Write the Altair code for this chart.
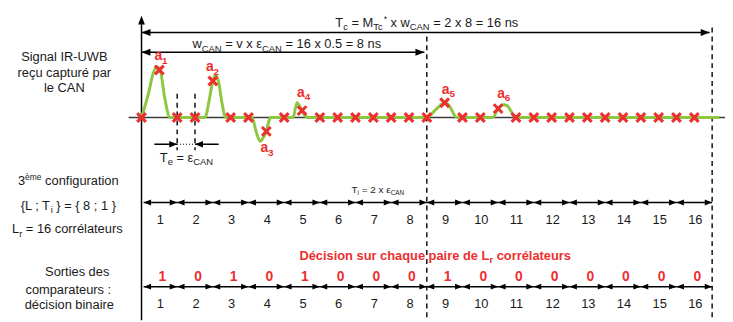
import altair as alt
import pandas as pd

# ---------------- values ----------------
EPS_CAN = 0.5            # ns, sampling period of the ADC
N_SAMPLES = 32           # samples in T_c
SAMPLE_AMP = [0, 48, 0, 0, 37, 0, 0, -14, 0, 7, 0, 0, 0, 0, 0, 0,
              0, 15, 0, 0, 9, 0, 0, 0, 0, 0, 0, 0, 0, 0, 0, 0]
SIGNAL_T = [0.0, 0.2, 0.33, 0.44, 0.53, 0.65, 0.8, 1.78, 1.9, 2.0, 2.08, 2.16, 2.26, 2.36,
            3.1, 3.22, 3.33, 3.42, 3.5, 3.56, 3.62, 4.25, 4.36, 4.5, 4.6, 4.7,
            8.0, 8.25, 8.5, 8.6, 8.85, 9.85, 10.0, 10.15, 10.25, 10.5, 16.2]
SIGNAL_A = [0, 25, 45, 51, 47, 20, 0, 0, 18, 37, 43, 36, 14, 0,
            0, -15, -24, -20, -14, -5, 0, 0, 15, 7, 1, 0,
            0, 8, 15, 13, 0, 0, 9, 13, 12, 0, 0]
PEAK_IDX = [1, 4, 7, 9, 17, 20]
PEAK_NAMES = ["1", "2", "3", "4", "5", "6"]
N_CORR = 16
T_I = 1.0
DECISIONS = [1, 0, 1, 0, 1, 0, 0, 0, 1, 0, 0, 0, 0, 0, 0, 0]
W_CAN = 8.0
T_C = 16.0

# ---------------- layout ----------------
W, H = 725, 314
PPN = 577 / 16.0                      # pixels per ns
X0 = -135 / PPN
X1 = X0 + W / PPN


def px(p):
    return (p - 143) / PPN            # image column -> ns


ROW_SIG = 117
ROW_A, ROW_B = 203, 288
RED = "#EC2F2F"
GREEN = "#8DC63F"
INK = "#1a1a1a"
FONT = "Liberation Sans"

xs = alt.Scale(domain=[X0, X1], nice=False, zero=False)
ys = alt.Scale(domain=[8, 322], reverse=True, nice=False, zero=False)


def X(f):
    return alt.X(f, type="quantitative", scale=xs, axis=None)


def Y(f):
    return alt.Y(f, type="quantitative", scale=ys, axis=None)


# ---------------- font metrics (Arial / Liberation Sans) ----------------
def _tab(s):
    d = {}
    for part in s.split():
        k, v = part.rsplit(":", 1)
        for ch in k:
            d[ch] = int(v)
    return d


AW = _tab("ABEKPSVXY:667 CDHNRUw:722 FTZ:611 GOQ:778 I:278 J:500 L:556 M:833 W:944 "
          "abdeghnopqu0123456789èé:556 cksvxyzç:500 fjt:278 il:222 m:833 r:333 "
          ".,;::278 =:584 {}:334 *:389 -:333 ε:446")
AW[" "] = 278
AWB = _tab("ABCDHKNRUw:722 EPSVXY:667 FTZ:611 GOQ:778 I:278 L:611 M:833 W:944 "
           "aeè0123456789é:556 bdghnopqu:611 cksvxyç:556 z:500 ilj:278 ft:333 m:889 r:389")
AWB[" "] = 278


def tw(s, size, bold=False):
    d = AWB if bold else AW
    return sum(d.get(c, 556) for c in s) * size / 1000.0


texts = {False: [], True: []}


def rich(segs, x, base, size=13, sub=9.5, color=INK, bold=False, anchor="center"):
    sizes = {"n": size, "s": sub, "p": sub * 0.9}
    dys = {"n": 0, "s": size * 0.26, "p": -size * 0.38}
    total = sum(tw(t, sizes[k], bold) for t, k in segs)
    cur = x - total / 2 if anchor == "center" else x
    for t, k in segs:
        lead = len(t) - len(t.lstrip(" "))
        s = t.strip(" ")
        if s:
            texts[bold].append(dict(x=px(cur + tw(" " * lead, sizes[k], bold)), y=base + dys[k],
                                    text=s, size=sizes[k], color=color))
        cur += tw(t, sizes[k], bold)


# titles / annotations
rich([("T", "n"), ("c", "s"), (" = M", "n"), ("Tc", "s"), ("*", "p"), (" x w", "n"),
      ("CAN", "s"), (" = 2 x 8 = 16 ns", "n")], 431.5, 25)
rich([("w", "n"), ("CAN", "s"), (" = v x ε", "n"), ("CAN", "s"), (" = 16 x 0.5 = 8 ns", "n")], 290, 47)
rich([("T", "n"), ("e", "s"), (" = ε", "n"), ("CAN", "s")], 188.5, 162)
rich([("T", "n"), ("i", "s"), (" = 2 x ε", "n"), ("CAN", "s")], 382, 193, size=10, sub=6.5)
rich([("Signal IR-UWB", "n")], 65, 60)
rich([("reçu capturé par", "n")], 65, 76)
rich([("le CAN", "n")], 65, 91)
rich([("3", "n"), ("ème", "p"), (" configuration", "n")], 69, 185)
rich([("{L ; T", "n"), ("i", "s"), (" } = { 8 ; 1 }", "n")], 69, 210)
rich([("L", "n"), ("r", "s"), (" = 16 corrélateurs", "n")], 68, 234)
rich([("Sorties des", "n")], 78, 277)
rich([("comparateurs :", "n")], 69, 295)
rich([("décision binaire", "n")], 70, 311)
rich([("Décision sur chaque paire de L", "n"), ("r", "s"), (" corrélateurs", "n")], 440, 261,
     color=RED, bold=True)

# peak labels a1..a6 (offsets from the sample marker, in px)
LABEL_OFF = [(-5, -10), (-7, -10), (-6, 21), (-5, -14), (-3, -9), (-1, -11)]
for idx, name, (dx, dy) in zip(PEAK_IDX, PEAK_NAMES, LABEL_OFF):
    cx = 143 + idx * EPS_CAN * PPN
    cy = ROW_SIG - SAMPLE_AMP[idx]
    rich([("a", "n"), (name, "s")], cx + dx, cy + dy, size=14, sub=10, color=RED,
         bold=True, anchor="left")

# correlator numbers and decisions
for i in range(N_CORR):
    c = 143 + (i + 0.5) * T_I * PPN
    rich([(str(i + 1), "n")], c + 1, 225)
    rich([(str(i + 1), "n")], c + 1, 310)
    rich([(str(DECISIONS[i]), "n")], c + 3, 282, size=14, color=RED, bold=True)

# ---------------- line work ----------------
solid = [(0, 0, 18, 322), (0, 15.93, 31, 31), (0, px(429), 51, 51),
         (px(156), 1.0, 144, 144), (1.5, px(221), 144, 144)]
for row in (ROW_A, ROW_B):
    for i in range(N_CORR):
        solid.append((i * T_I + (0.06 if i == 0 else 0), (i + 1) * T_I, row, row))
dashed = [(W_CAN, W_CAN, 35, 322), (T_C, T_C, 26, 322),
          (2 * EPS_CAN, 2 * EPS_CAN, 93, 150), (3 * EPS_CAN, 3 * EPS_CAN, 93, 150)]
dotted = [(2 * EPS_CAN, 3 * EPS_CAN, 144, 144)]
gray = [(px(130), X1, ROW_SIG, ROW_SIG)]


def rules(lst, color, width, dash=None):
    df = pd.DataFrame(lst, columns=["x", "x2", "y", "y2"])
    kw = dict(color=color, strokeWidth=width)
    if dash:
        kw["strokeDash"] = dash
    return alt.Chart(df).mark_rule(**kw).encode(
        x=X("x"), x2="x2", y=Y("y"), y2="y2")


HEAD_R = "M0,0L-1,-0.4L-1,0.4Z"
HEAD_L = "M0,0L1,-0.4L1,0.4Z"
HEAD_U = "M0,0L-0.38,1L0.38,1Z"
heads = [(0, 14, HEAD_U, 324), (0, 31, HEAD_L, 324), (15.93, 31, HEAD_R, 324),
         (0, 51, HEAD_L, 324), (px(429), 51, HEAD_R, 324),
         (2 * EPS_CAN, 144, HEAD_R, 256), (3 * EPS_CAN, 144, HEAD_L, 256)]
for row in (ROW_A, ROW_B):
    for i in range(N_CORR):
        heads.append((i * T_I + (0.06 if i == 0 else 0), row, HEAD_L, 225))
        heads.append(((i + 1) * T_I, row, HEAD_R, 225))
heads_df = pd.DataFrame(heads, columns=["x", "y", "shape", "size"])

sig_df = pd.DataFrame({"x": SIGNAL_T, "y": [ROW_SIG - a for a in SIGNAL_A]})
samp_df = pd.DataFrame({"x": [i * EPS_CAN for i in range(N_SAMPLES)],
                        "y": [ROW_SIG - a for a in SAMPLE_AMP]})

X_SHAPE = "M-1,-0.6L-0.6,-1L1,0.6L0.6,1Z M1,-0.6L-0.6,1L-1,0.6L0.6,-1Z"

layers = [
    rules(gray, "#3c3c3c", 1.6),
    rules(dashed, "black", 1.4, [5, 4]),
    rules(dotted, "black", 1.2, [1, 2]),
    rules(solid, "black", 1.5),
    alt.Chart(sig_df).mark_line(color=GREEN, strokeWidth=3, interpolate="monotone").encode(
        x=X("x"), y=Y("y")),
    alt.Chart(samp_df).mark_point(shape=X_SHAPE, filled=True, size=121, color=RED, opacity=1).encode(
        x=X("x"), y=Y("y")),
    alt.Chart(heads_df).mark_point(filled=True, color="black", opacity=1).encode(
        x=X("x"), y=Y("y"), shape=alt.Shape("shape:N", scale=None),
        size=alt.Size("size:Q", scale=None)),
]
for bold in (False, True):
    df = pd.DataFrame(texts[bold])
    layers.append(alt.Chart(df).mark_text(
        align="left", baseline="alphabetic", font=FONT,
        fontWeight="bold" if bold else "normal").encode(
        x=X("x"), y=Y("y"), text="text:N",
        size=alt.Size("size:Q", scale=None), color=alt.Color("color:N", scale=None)))

chart = alt.layer(*layers).properties(
    width=W, height=H, padding=0, autosize=alt.AutoSizeParams(type="none"),
    background="white").configure_view(stroke=None)

chart.save("out.html", embed_options={"renderer": "svg", "actions": False})
